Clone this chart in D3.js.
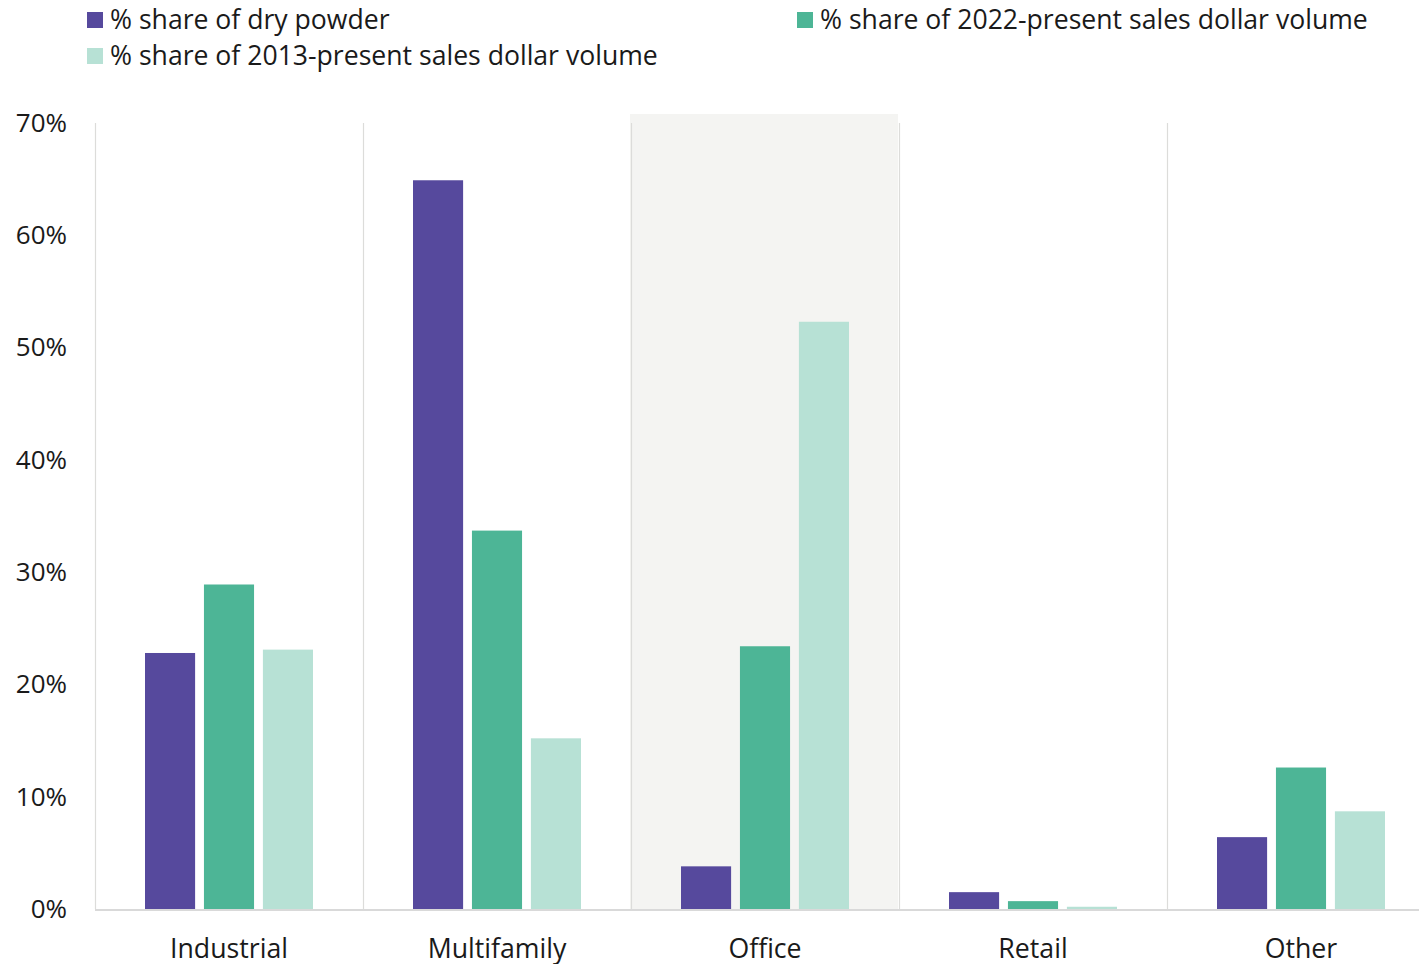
<!DOCTYPE html>
<html>
<head>
<meta charset="utf-8">
<script src="https://cdn.jsdelivr.net/npm/d3@7"></script>
<style>
  body { margin: 0; background: #fff; }
  text { font-family: "Open Sans", sans-serif; fill: #1a1a1a; }
</style>
</head>
<body>
<script>
const categories = ["Industrial", "Multifamily", "Office", "Retail", "Other"];
const seriesNames = [
	"% share of dry powder",
	"% share of 2022-present sales dollar volume",
	"% share of 2013-present sales dollar volume"
];
const dryPowder = [22.8, 64.9, 3.8, 1.5, 6.4];
const sales2022 = [28.9, 33.7, 23.4, 0.7, 12.6];
const sales2013 = [23.1, 15.2, 52.3, 0.2, 8.7];
const yTicks = [0, 10, 20, 30, 40, 50, 60, 70];
const highlighted = "Office";

const colors = ["#56499d", "#4db596", "#b7e1d5"];
const width = 1419;
const height = 964;
const margin = { top: 123, left: 95, bottom: 55 };
const bandW = 268;

const svg = d3.select("body").append("svg")
	.attr("width", width)
	.attr("height", height);

const x = d3.scaleBand()
	.domain(categories)
	.range([margin.left, margin.left + bandW * categories.length]);

const y = d3.scaleLinear()
	.domain([0, 70])
	.range([height - margin.bottom, margin.top]);

const x1 = d3.scaleBand()
	.domain(d3.range(seriesNames.length))
	.range([50, bandW - 50])
	.paddingInner(0.15);

// highlighted band
svg.append("rect")
	.attr("x", x(highlighted) - 1)
	.attr("y", y(70) - 9)
	.attr("width", bandW)
	.attr("height", y(0) - y(70) + 9)
	.attr("fill", "#f4f4f2");

// category separators
svg.append("g")
	.selectAll("line")
	.data(categories)
	.enter()
	.append("line")
	.attr("x1", (d) => x(d) + 0.5)
	.attr("x2", (d) => x(d) + 0.5)
	.attr("y1", y(70))
	.attr("y2", y(0))
	.attr("stroke", "#dcdcda")
	.attr("stroke-width", 1.2);

// bars
const table = categories.map((c, i) => ({
	cat: c,
	vals: [dryPowder[i], sales2022[i], sales2013[i]]
}));

svg.append("g")
	.selectAll("g")
	.data(table)
	.enter()
	.append("g")
	.attr("transform", (d) => `translate(${x(d.cat)},0)`)
	.selectAll("rect")
	.data((d) => d.vals)
	.enter()
	.append("rect")
	.attr("x", (d, i) => x1(i))
	.attr("y", (d) => y(d))
	.attr("width", x1.bandwidth())
	.attr("height", (d) => y(0) - y(d))
	.attr("fill", (d, i) => colors[i]);

// baseline
svg.append("line")
	.attr("x1", margin.left)
	.attr("x2", width)
	.attr("y1", y(0) + 1)
	.attr("y2", y(0) + 1)
	.attr("stroke", "#d9d9d9")
	.attr("stroke-width", 2);

// y axis labels
const yAxis = svg.append("g")
	.attr("transform", `translate(67,0)`)
	.call(d3.axisLeft(y).tickValues(yTicks).tickFormat((d) => d + "%").tickSize(0).tickPadding(0));
yAxis.select(".domain").remove();
yAxis.selectAll("text")
	.style("font-family", "'Open Sans', sans-serif")
	.style("font-size", "26px")
	.attr("fill", "#1a1a1a");

// x axis labels
const xAxis = svg.append("g")
	.attr("transform", `translate(0,${y(0)})`)
	.call(d3.axisBottom(x).tickSize(0).tickPadding(30));
xAxis.select(".domain").remove();
xAxis.selectAll("text")
	.style("font-family", "'Open Sans', sans-serif")
	.style("font-size", "26.7px")
	.attr("fill", "#1a1a1a");

// legend
const legendPos = [[87, 20], [797, 20], [87, 56]];
const legend = svg.append("g")
	.selectAll("g")
	.data(seriesNames)
	.enter()
	.append("g")
	.attr("transform", (d, i) => `translate(${legendPos[i][0]},${legendPos[i][1]})`);

legend.append("rect")
	.attr("x", 0)
	.attr("y", -8)
	.attr("width", 16)
	.attr("height", 16)
	.attr("fill", (d, i) => colors[i]);

legend.append("text")
	.attr("x", 23)
	.attr("y", 9)
	.style("font-size", "26.6px")
	.text((d) => d);
</script>
</body>
</html>
